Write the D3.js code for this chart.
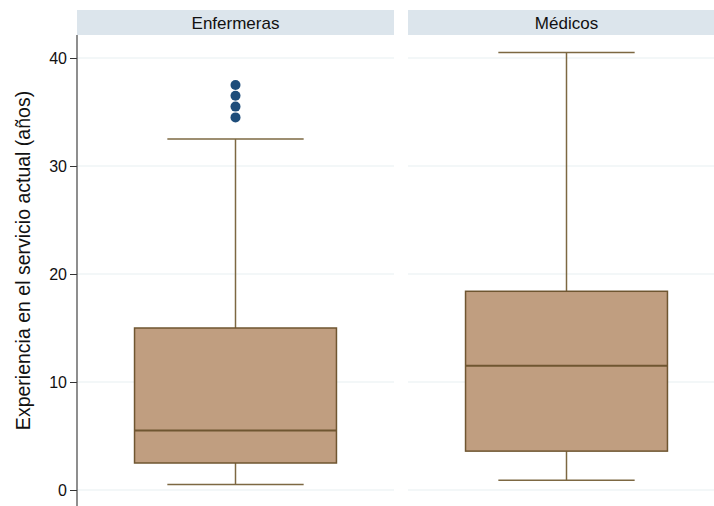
<!DOCTYPE html>
<html>
<head>
<meta charset="utf-8">
<script src="https://cdn.jsdelivr.net/npm/d3@7"></script>
<style>
  html, body { margin: 0; padding: 0; background: #fff; }
  svg { display: block; font-family: "Liberation Sans", Arial, Helvetica, sans-serif; }
</style>
</head>
<body>
<svg id="chart" width="714" height="506"></svg>
<script>
// Grupos y estadísticos de la caja (años de experiencia)
const groups = ["Enfermeras", "Médicos"];
const lowerWhisker = [0.5, 0.9];
const q1 = [2.5, 3.6];
const median = [5.5, 11.5];
const q3 = [15, 18.4];
const upperWhisker = [32.5, 40.5];
const outliers = [[34.5, 35.5, 36.5, 37.5], []];
const yTicks = [0, 10, 20, 30, 40];
const yTitle = "Experiencia en el servicio actual (años)";

const svg = d3.select("#chart");

const panelLeft = 77, panelWidth = 317, panelGap = 14;
const headerTop = 10, headerHeight = 25;
const plotTop = headerTop + headerHeight, plotBottom = 506;

const x = d3.scaleBand()
  .domain(groups)
  .range([panelLeft, panelLeft + groups.length * panelWidth + (groups.length - 1) * panelGap])
  .paddingInner(panelGap / (panelWidth + panelGap))
  .paddingOuter(0);

const y = d3.scaleLinear().domain([0, 40]).range([490, 58]);

const boxColor = "#c09e80";
const lineColor = "#6f5631";
const whiskerColor = "#7d6842";
const dotColor = "#1e4d7a";

groups.forEach((g, i) => {
  const x0 = x(g), w = x.bandwidth(), cx = x0 + w / 2;
  const p = svg.append("g");

  // cabecera del panel
  p.append("rect")
    .attr("x", x0).attr("y", headerTop)
    .attr("width", w).attr("height", headerHeight)
    .attr("fill", "#dce5ec");
  p.append("text")
    .attr("x", cx).attr("y", headerTop + headerHeight / 2)
    .attr("dy", "0.36em")
    .attr("text-anchor", "middle")
    .attr("font-size", 17)
    .attr("fill", "#111")
    .text(g);

  // líneas de cuadrícula
  p.selectAll("line.grid").data(yTicks).join("line")
    .attr("class", "grid")
    .attr("x1", x0).attr("x2", x0 + w)
    .attr("y1", d => y(d)).attr("y2", d => y(d))
    .attr("stroke", "#e8f0f2").attr("stroke-width", 1.2);

  const boxW = w * 0.637, capW = w * 0.43;

  // bigotes
  p.append("line")
    .attr("x1", cx).attr("x2", cx)
    .attr("y1", y(upperWhisker[i])).attr("y2", y(q3[i]))
    .attr("stroke", whiskerColor).attr("stroke-width", 1.5);
  p.append("line")
    .attr("x1", cx).attr("x2", cx)
    .attr("y1", y(q1[i])).attr("y2", y(lowerWhisker[i]))
    .attr("stroke", whiskerColor).attr("stroke-width", 1.5);
  [upperWhisker[i], lowerWhisker[i]].forEach(v => {
    p.append("line")
      .attr("x1", cx - capW / 2).attr("x2", cx + capW / 2)
      .attr("y1", y(v)).attr("y2", y(v))
      .attr("stroke", whiskerColor).attr("stroke-width", 1.5);
  });

  // caja
  p.append("rect")
    .attr("x", cx - boxW / 2).attr("y", y(q3[i]))
    .attr("width", boxW).attr("height", y(q1[i]) - y(q3[i]))
    .attr("fill", boxColor)
    .attr("stroke", lineColor).attr("stroke-width", 1.5);
  p.append("line")
    .attr("x1", cx - boxW / 2).attr("x2", cx + boxW / 2)
    .attr("y1", y(median[i])).attr("y2", y(median[i]))
    .attr("stroke", lineColor).attr("stroke-width", 2);

  // valores atípicos
  p.selectAll("circle").data(outliers[i]).join("circle")
    .attr("cx", cx).attr("cy", d => y(d))
    .attr("r", 5)
    .attr("fill", dotColor);
});

// eje Y
const yAxis = d3.axisLeft(y).tickValues(yTicks).tickSize(7).tickPadding(3);
const ag = svg.append("g").attr("transform", `translate(${panelLeft},0)`).call(yAxis);
ag.select(".domain").remove();
ag.selectAll(".tick line").attr("stroke", "#333").attr("stroke-width", 1);
ag.selectAll(".tick text").attr("font-size", 16).attr("fill", "#111")
  .attr("font-family", "'Liberation Sans', Arial, sans-serif");
svg.append("line")
  .attr("x1", panelLeft).attr("x2", panelLeft)
  .attr("y1", plotTop).attr("y2", plotBottom)
  .attr("stroke", "#444").attr("stroke-width", 1.2);

// título del eje Y
svg.append("text")
  .attr("transform", `translate(30,260.5) rotate(-90)`)
  .attr("text-anchor", "middle")
  .attr("font-size", 19.5)
  .attr("fill", "#111")
  .text(yTitle);
</script>
</body>
</html>
